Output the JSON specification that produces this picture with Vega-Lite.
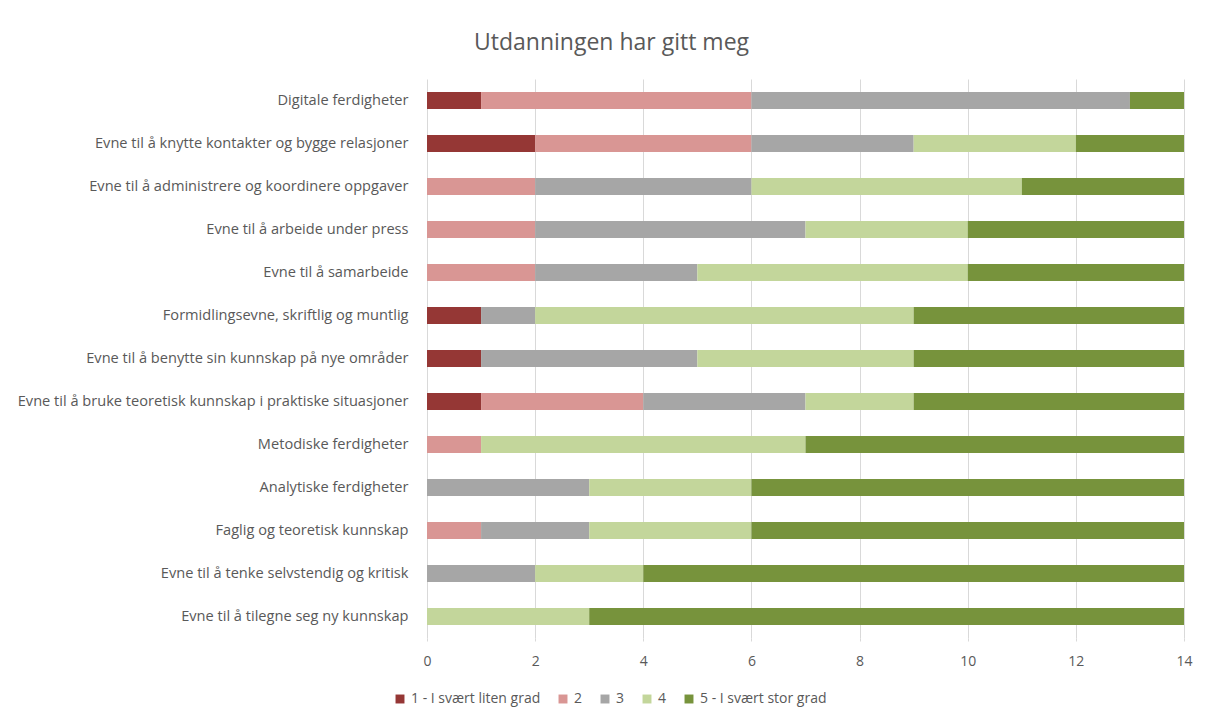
{
  "$schema": "https://vega.github.io/schema/vega-lite/v6.json",
  "autosize": {"type": "none"},
  "width": 757,
  "height": 559,
  "padding": {"left": 427, "top": 79, "right": 26, "bottom": 79},
  "background": "white",
  "title": {
    "text": "Utdanningen har gitt meg",
    "font": "Open Sans",
    "fontSize": 23,
    "fontWeight": "normal",
    "color": "#595959",
    "anchor": "middle",
    "dx": -194,
    "offset": 24
  },
  "data": {
    "values": [
      {"ferdighet": "Digitale ferdigheter", "grad": "1 - I svært liten grad", "rank": 1, "antall": 1},
      {"ferdighet": "Digitale ferdigheter", "grad": "2", "rank": 2, "antall": 5},
      {"ferdighet": "Digitale ferdigheter", "grad": "3", "rank": 3, "antall": 7},
      {"ferdighet": "Digitale ferdigheter", "grad": "5 - I svært stor grad", "rank": 5, "antall": 1},

      {"ferdighet": "Evne til å knytte kontakter og bygge relasjoner", "grad": "1 - I svært liten grad", "rank": 1, "antall": 2},
      {"ferdighet": "Evne til å knytte kontakter og bygge relasjoner", "grad": "2", "rank": 2, "antall": 4},
      {"ferdighet": "Evne til å knytte kontakter og bygge relasjoner", "grad": "3", "rank": 3, "antall": 3},
      {"ferdighet": "Evne til å knytte kontakter og bygge relasjoner", "grad": "4", "rank": 4, "antall": 3},
      {"ferdighet": "Evne til å knytte kontakter og bygge relasjoner", "grad": "5 - I svært stor grad", "rank": 5, "antall": 2},

      {"ferdighet": "Evne til å administrere og koordinere oppgaver", "grad": "2", "rank": 2, "antall": 2},
      {"ferdighet": "Evne til å administrere og koordinere oppgaver", "grad": "3", "rank": 3, "antall": 4},
      {"ferdighet": "Evne til å administrere og koordinere oppgaver", "grad": "4", "rank": 4, "antall": 5},
      {"ferdighet": "Evne til å administrere og koordinere oppgaver", "grad": "5 - I svært stor grad", "rank": 5, "antall": 3},

      {"ferdighet": "Evne til å arbeide under press", "grad": "2", "rank": 2, "antall": 2},
      {"ferdighet": "Evne til å arbeide under press", "grad": "3", "rank": 3, "antall": 5},
      {"ferdighet": "Evne til å arbeide under press", "grad": "4", "rank": 4, "antall": 3},
      {"ferdighet": "Evne til å arbeide under press", "grad": "5 - I svært stor grad", "rank": 5, "antall": 4},

      {"ferdighet": "Evne til å samarbeide", "grad": "2", "rank": 2, "antall": 2},
      {"ferdighet": "Evne til å samarbeide", "grad": "3", "rank": 3, "antall": 3},
      {"ferdighet": "Evne til å samarbeide", "grad": "4", "rank": 4, "antall": 5},
      {"ferdighet": "Evne til å samarbeide", "grad": "5 - I svært stor grad", "rank": 5, "antall": 4},

      {"ferdighet": "Formidlingsevne, skriftlig og muntlig", "grad": "1 - I svært liten grad", "rank": 1, "antall": 1},
      {"ferdighet": "Formidlingsevne, skriftlig og muntlig", "grad": "3", "rank": 3, "antall": 1},
      {"ferdighet": "Formidlingsevne, skriftlig og muntlig", "grad": "4", "rank": 4, "antall": 7},
      {"ferdighet": "Formidlingsevne, skriftlig og muntlig", "grad": "5 - I svært stor grad", "rank": 5, "antall": 5},

      {"ferdighet": "Evne til å benytte sin kunnskap på nye områder", "grad": "1 - I svært liten grad", "rank": 1, "antall": 1},
      {"ferdighet": "Evne til å benytte sin kunnskap på nye områder", "grad": "3", "rank": 3, "antall": 4},
      {"ferdighet": "Evne til å benytte sin kunnskap på nye områder", "grad": "4", "rank": 4, "antall": 4},
      {"ferdighet": "Evne til å benytte sin kunnskap på nye områder", "grad": "5 - I svært stor grad", "rank": 5, "antall": 5},

      {"ferdighet": "Evne til å bruke teoretisk kunnskap i praktiske situasjoner", "grad": "1 - I svært liten grad", "rank": 1, "antall": 1},
      {"ferdighet": "Evne til å bruke teoretisk kunnskap i praktiske situasjoner", "grad": "2", "rank": 2, "antall": 3},
      {"ferdighet": "Evne til å bruke teoretisk kunnskap i praktiske situasjoner", "grad": "3", "rank": 3, "antall": 3},
      {"ferdighet": "Evne til å bruke teoretisk kunnskap i praktiske situasjoner", "grad": "4", "rank": 4, "antall": 2},
      {"ferdighet": "Evne til å bruke teoretisk kunnskap i praktiske situasjoner", "grad": "5 - I svært stor grad", "rank": 5, "antall": 5},

      {"ferdighet": "Metodiske ferdigheter", "grad": "2", "rank": 2, "antall": 1},
      {"ferdighet": "Metodiske ferdigheter", "grad": "4", "rank": 4, "antall": 6},
      {"ferdighet": "Metodiske ferdigheter", "grad": "5 - I svært stor grad", "rank": 5, "antall": 7},

      {"ferdighet": "Analytiske ferdigheter", "grad": "3", "rank": 3, "antall": 3},
      {"ferdighet": "Analytiske ferdigheter", "grad": "4", "rank": 4, "antall": 3},
      {"ferdighet": "Analytiske ferdigheter", "grad": "5 - I svært stor grad", "rank": 5, "antall": 8},

      {"ferdighet": "Faglig og teoretisk kunnskap", "grad": "2", "rank": 2, "antall": 1},
      {"ferdighet": "Faglig og teoretisk kunnskap", "grad": "3", "rank": 3, "antall": 2},
      {"ferdighet": "Faglig og teoretisk kunnskap", "grad": "4", "rank": 4, "antall": 3},
      {"ferdighet": "Faglig og teoretisk kunnskap", "grad": "5 - I svært stor grad", "rank": 5, "antall": 8},

      {"ferdighet": "Evne til å tenke selvstendig og kritisk", "grad": "3", "rank": 3, "antall": 2},
      {"ferdighet": "Evne til å tenke selvstendig og kritisk", "grad": "4", "rank": 4, "antall": 2},
      {"ferdighet": "Evne til å tenke selvstendig og kritisk", "grad": "5 - I svært stor grad", "rank": 5, "antall": 10},

      {"ferdighet": "Evne til å tilegne seg ny kunnskap", "grad": "4", "rank": 4, "antall": 3},
      {"ferdighet": "Evne til å tilegne seg ny kunnskap", "grad": "5 - I svært stor grad", "rank": 5, "antall": 11}
    ]
  },
  "mark": {"type": "bar"},
  "encoding": {
    "y": {
      "field": "ferdighet",
      "type": "nominal",
      "sort": null,
      "title": null,
      "scale": {"paddingInner": 0.6, "paddingOuter": 0.3},
      "axis": {
        "ticks": false,
        "domain": false,
        "labelFont": "Open Sans",
        "labelFontSize": 14.6,
        "labelColor": "#595959",
        "labelPadding": 19,
        "labelLimit": 500
      }
    },
    "x": {
      "field": "antall",
      "type": "quantitative",
      "stack": "zero",
      "title": null,
      "scale": {"domain": [0, 14], "nice": false},
      "axis": {
        "values": [0, 2, 4, 6, 8, 10, 12, 14],
        "domain": false,
        "grid": true,
        "gridColor": "#D9D9D9",
        "gridWidth": 1,
        "ticks": true,
        "tickSize": 3,
        "tickColor": "#D9D9D9",
        "labelFlush": false,
        "labelFont": "Open Sans",
        "labelFontSize": 14,
        "labelColor": "#595959",
        "labelPadding": 13
      }
    },
    "color": {
      "field": "grad",
      "type": "nominal",
      "scale": {
        "domain": ["1 - I svært liten grad", "2", "3", "4", "5 - I svært stor grad"],
        "range": ["#953735", "#D99694", "#A6A6A6", "#C3D69B", "#77933C"]
      },
      "legend": {
        "title": null,
        "orient": "none",
        "direction": "horizontal",
        "legendX": -34,
        "legendY": 613,
        "symbolType": "square",
        "symbolSize": 80,
        "symbolStrokeWidth": 0,
        "labelFont": "Open Sans",
        "labelFontSize": 14,
        "labelColor": "#595959",
        "labelOffset": 4,
        "columnPadding": 15
      }
    },
    "order": {"field": "rank", "type": "quantitative"}
  },
  "config": {
    "view": {"stroke": null}
  }
}
